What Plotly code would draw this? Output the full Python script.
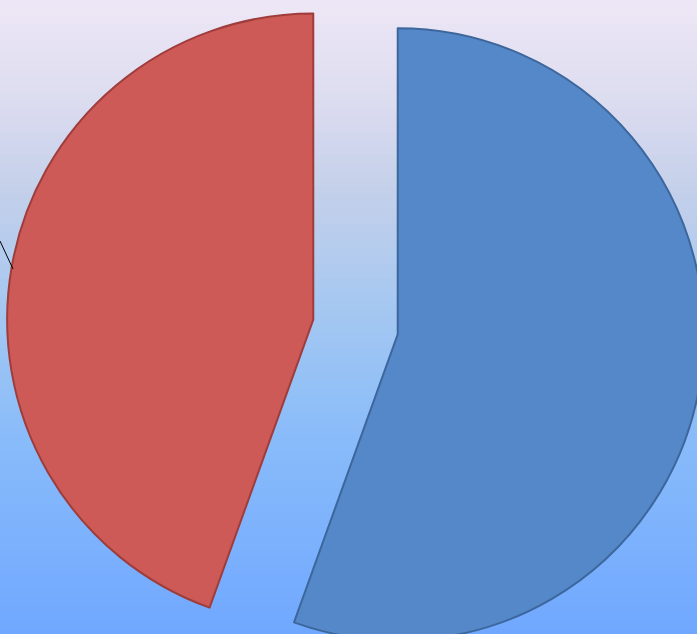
import plotly.graph_objects as go

# Data (no labels visible in the cropped reference)
labels = ["Series A", "Series B"]
values = [55.5, 44.5]
slice_colors = ["#5588C9", "#CD5A57"]
edge_colors = ["#3D679C", "#9E3D3B"]
pulls = [0.14, 0.14]

# Background gradient stops (top -> bottom), fraction of visible height, rgb
grad_stops = [
    (0.00, (238, 231, 246)),
    (0.15, (222, 221, 240)),
    (0.30, (196, 208, 234)),
    (0.50, (163, 199, 241)),
    (0.70, (136, 187, 250)),
    (1.00, (112, 168, 255)),
]

VW, VH = 697, 634          # visible window
OFF_TOP = 22               # figure starts this many px above the window
W, H = 712, 698            # figure size
BOX_X0, BOX_X1 = 6.5, 704.5


def interp(t):
    t = min(max(t, 0), 1)
    for (t0, c0), (t1, c1) in zip(grad_stops[:-1], grad_stops[1:]):
        if t0 <= t <= t1:
            f = (t - t0) / (t1 - t0) if t1 > t0 else 0
            return tuple(round(a + (b - a) * f) for a, b in zip(c0, c1))
    return grad_stops[-1][1]


def py(y_screen):
    return 1 - (y_screen + OFF_TOP) / H


n_bands = 90
shapes = []
y_start, y_end = -OFF_TOP, H - OFF_TOP
step = (y_end - y_start) / n_bands
for i in range(n_bands):
    ya = y_start + i * step
    yb = ya + step
    c = interp(((ya + yb) / 2) / VH)
    shapes.append(dict(
        type="rect", xref="paper", yref="paper",
        x0=0, x1=1, y0=py(yb) - 0.002, y1=py(ya) + 0.002,
        fillcolor="rgb(%d,%d,%d)" % c, line=dict(width=0), layer="below",
    ))

# leader line of a clipped data label at the left edge
shapes.append(dict(type="line", xref="paper", yref="paper",
                   x0=0 / W, y0=py(241), x1=13 / W, y1=py(269),
                   line=dict(color="black", width=1), layer="above"))

fig = go.Figure(go.Pie(
    labels=labels,
    values=values,
    sort=False,
    direction="clockwise",
    rotation=0,
    pull=pulls,
    marker=dict(colors=slice_colors, line=dict(color=edge_colors, width=2)),
    textinfo="none",
    hoverinfo="label+percent",
    domain=dict(x=[BOX_X0 / W, BOX_X1 / W], y=[0, 1]),
))

fig.update_layout(
    width=W, height=H,
    margin=dict(l=0, r=0, t=0, b=0),
    showlegend=False,
    paper_bgcolor="rgb(160,198,242)",
    plot_bgcolor="rgba(0,0,0,0)",
    shapes=shapes,
)

post = (
    "document.body.style.margin='0';"
    "document.body.style.overflow='hidden';"
    "document.getElementById('{plot_id}').style.marginTop='-%dpx';" % OFF_TOP
)

fig.write_html("out.html", post_script=post, config={"displayModeBar": False})
